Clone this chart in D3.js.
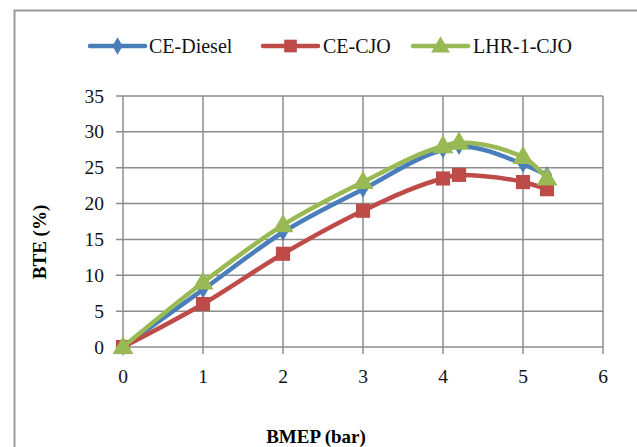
<!DOCTYPE html>
<html><head><meta charset="utf-8">
<script src="https://cdn.jsdelivr.net/npm/d3@7"></script>
<style>body{margin:0;background:#fff}svg{display:block}</style>
</head><body><svg id="c" width="637" height="447"></svg>
<script>
const bmep = [0, 1, 2, 3, 4, 4.2, 5, 5.3];
const ceDiesel = [0, 8, 16, 22, 27.5, 28, 25.5, 24];
const ceCJO = [0, 6, 13, 19, 23.5, 24, 23, 22];
const lhrCJO = [0, 9, 17, 23, 28, 28.5, 26.5, 23.5];
const seriesNames = ["CE-Diesel", "CE-CJO", "LHR-1-CJO"];
const xTicks = [0, 1, 2, 3, 4, 5, 6];
const yTicks = [0, 5, 10, 15, 20, 25, 30, 35];

const svg = d3.select("#c");
const font = "'Liberation Serif', 'DejaVu Serif', serif";
svg.append("rect").attr("x", 14.5).attr("y", 10.5).attr("width", 700).attr("height", 500)
  .attr("fill", "none").attr("stroke", "#9a9a9a").attr("stroke-width", 2);

const x = d3.scaleLinear().domain([0, 6]).range([123, 603]);
const y = d3.scaleLinear().domain([0, 35]).range([347, 96]);

const g = svg.append("g");
g.selectAll(".hg").data(yTicks).join("line")
  .attr("x1", 116).attr("x2", x(6)).attr("y1", d => y(d)).attr("y2", d => y(d))
  .attr("stroke", "#8c8c8c").attr("stroke-width", 1.5);
g.selectAll(".vg").data(xTicks).join("line")
  .attr("x1", d => x(d)).attr("x2", d => x(d)).attr("y1", y(35)).attr("y2", y(0) + 7)
  .attr("stroke", "#8c8c8c").attr("stroke-width", 1.5);

g.selectAll(".yl").data(yTicks).join("text")
  .attr("x", 104).attr("y", d => y(d)).attr("dy", "0.34em").attr("text-anchor", "end")
  .attr("font-family", font).attr("font-size", 19.5).attr("fill", "#111").text(d => d);
g.selectAll(".xl").data(xTicks).join("text")
  .attr("x", d => x(d)).attr("y", 383).attr("text-anchor", "middle")
  .attr("font-family", font).attr("font-size", 19.5).attr("fill", "#111").text(d => d);

svg.append("text").attr("x", 316).attr("y", 443).attr("text-anchor", "middle")
  .attr("font-family", font).attr("font-weight", "bold").attr("font-size", 19).text("BMEP (bar)");
svg.append("text").attr("transform", "translate(46,242) rotate(-90)").attr("text-anchor", "middle")
  .attr("font-family", font).attr("font-weight", "bold").attr("font-size", 19).text("BTE (%)");

const colors = ["#4A7EBB", "#BE4B48", "#98B954"];
const data = [ceDiesel, ceCJO, lhrCJO];
const symbols = [d3.symbolDiamond, d3.symbolSquare, d3.symbolTriangle];
const sizes = [90, 200, 190];
const line = d3.line().x(d => x(d[0])).y(d => y(d[1])).curve(d3.curveMonotoneX);

data.forEach((vals, i) => {
  const pts = bmep.map((b, k) => [b, vals[k]]);
  g.append("path").attr("d", line(pts)).attr("fill", "none")
    .attr("stroke", colors[i]).attr("stroke-width", 4.5).attr("stroke-linejoin", "round").attr("stroke-linecap", "round");
  g.selectAll(null).data(pts).join("path")
    .attr("transform", d => `translate(${x(d[0])},${y(d[1]) + (i === 2 ? 1 : 0)})`)
    .attr("d", d3.symbol().type(symbols[i]).size(sizes[i])).attr("fill", colors[i]);
});

const lg = [{x1: 90, x2: 145, tx: 149}, {x1: 263, x2: 318, tx: 323}, {x1: 413, x2: 468, tx: 473}];
lg.forEach((l, i) => {
  svg.append("line").attr("x1", l.x1).attr("x2", l.x2).attr("y1", 46).attr("y2", 46)
    .attr("stroke", colors[i]).attr("stroke-width", 4.5).attr("stroke-linecap", "round");
  svg.append("path").attr("transform", `translate(${(l.x1 + l.x2) / 2},${46 + (i === 2 ? 1 : 0)})`)
    .attr("d", d3.symbol().type(symbols[i]).size(sizes[i] * (i === 0 ? 1 : 0.8))).attr("fill", colors[i]);
  svg.append("text").attr("x", l.tx).attr("y", 46).attr("dy", "0.34em")
    .attr("font-family", font).attr("font-size", 20).attr("fill", "#111").text(seriesNames[i]);
});
</script></body></html>
